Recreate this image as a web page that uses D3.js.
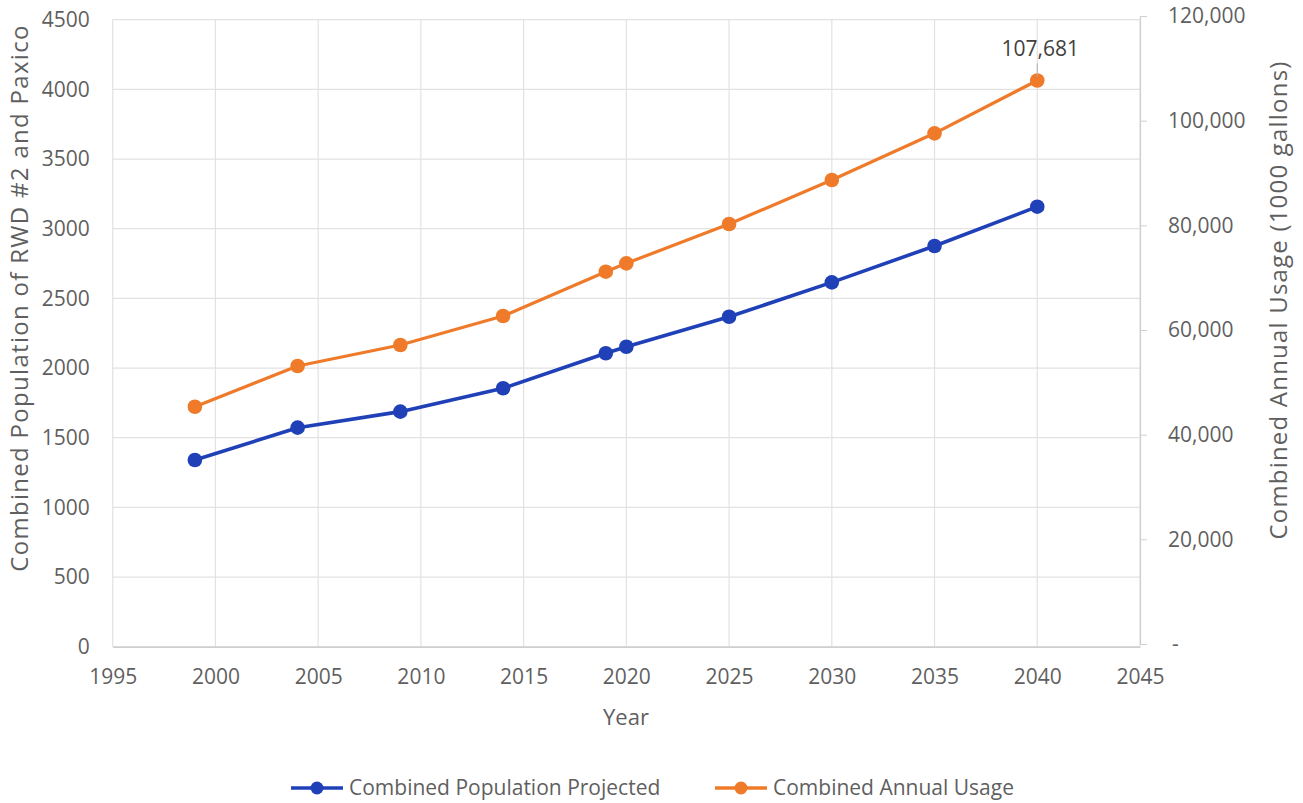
<!DOCTYPE html>
<html>
<head>
<meta charset="utf-8">
<script src="https://cdn.jsdelivr.net/npm/d3@7"></script>
<style>
  html, body { margin: 0; padding: 0; background: #ffffff; }
  svg { display: block; }
  text { font-family: "Open Sans", "Noto Sans", sans-serif; }
</style>
</head>
<body>
<svg id="chart" width="1303" height="803"></svg>
<script>
// ---- data ----
const years = [1999, 2004, 2009, 2014, 2019, 2020, 2025, 2030, 2035, 2040];
const population = [1340, 1572, 1687, 1855, 2106, 2153, 2368, 2615, 2876, 3158];
const usage = [45340, 53120, 57130, 62670, 71140, 72740, 80250, 88660, 97580, 107681];
const xTicks = [1995, 2000, 2005, 2010, 2015, 2020, 2025, 2030, 2035, 2040, 2045];
const leftTicks = [0, 500, 1000, 1500, 2000, 2500, 3000, 3500, 4000, 4500];
const rightTicks = [0, 20000, 40000, 60000, 80000, 100000, 120000];
const seriesNames = ["Combined Population Projected", "Combined Annual Usage"];
const xTitle = "Year";
const leftTitle = "Combined Population of RWD #2 and Paxico";
const rightTitle = "Combined Annual Usage (1000 gallons)";
const labelText = "107,681";

// ---- styles ----
const blue = "#2040b8";
const orange = "#ef7b2a";
const gridColor = "#e2e2e2";
const textColor = "#5f5f5f";
const tickFont = "21px";

const svg = d3.select("#chart");

const x = d3.scaleLinear().domain([1995, 2045]).range([112.7, 1140]);
const yL = d3.scaleLinear().domain([0, 4500]).range([646.7, 19.7]);
const yR = d3.scaleLinear().domain([0, 120000]).range([644, 16]);

// gridlines
const grid = svg.append("g");
grid.selectAll("line.h").data(leftTicks).join("line")
  .attr("x1", x(1995)).attr("x2", x(2045))
  .attr("y1", d => yL(d)).attr("y2", d => yL(d))
  .attr("stroke", gridColor).attr("stroke-width", 1.2);
grid.selectAll("line.v").data(xTicks).join("line")
  .attr("x1", d => x(d)).attr("x2", d => x(d))
  .attr("y1", yL(4500)).attr("y2", yL(0))
  .attr("stroke", gridColor).attr("stroke-width", 1.2);

// bottom axis
const xAxis = d3.axisBottom(x).tickValues(xTicks).tickFormat(d3.format("d")).tickSize(0).tickPadding(22);
const gx = svg.append("g").attr("transform", `translate(0,${yL(0)})`).call(xAxis);
gx.select(".domain").attr("stroke", "#cfcfcf").attr("stroke-width", 1.5);
gx.selectAll("text").attr("fill", textColor).style("font-size", tickFont);

// left axis
const yAxisL = d3.axisLeft(yL).tickValues(leftTicks).tickFormat(d3.format("d")).tickSize(0).tickPadding(23);
const gl = svg.append("g").attr("transform", `translate(${x(1995)},0)`).call(yAxisL);
gl.select(".domain").remove();
gl.selectAll("text").attr("fill", textColor).style("font-size", tickFont);

// right axis
const fmtR = v => v === 0 ? "-" : d3.format(",")(v);
const yAxisR = d3.axisRight(yR).tickValues(rightTicks).tickFormat(fmtR).tickSize(7).tickSizeOuter(0).tickPadding(21);
const gr = svg.append("g").attr("transform", `translate(${x(2045)},0)`).call(yAxisR);
gr.select(".domain").attr("stroke", "#cfcfcf").attr("stroke-width", 1.2);
gr.selectAll(".tick line").attr("stroke", "#cfcfcf");
gr.selectAll("text").attr("fill", textColor).style("font-size", tickFont);
gr.selectAll(".tick").filter(d => d === 0).select("text").attr("dx", 4);

// axis titles
svg.append("text").attr("x", 626).attr("y", 725).attr("text-anchor", "middle")
  .attr("fill", textColor).style("font-size", "22px").text(xTitle);
svg.append("text").attr("transform", `translate(28,298) rotate(-90)`)
  .attr("text-anchor", "middle").attr("fill", textColor).style("font-size", "24px")
  .style("letter-spacing", "1.3px").text(leftTitle);
svg.append("text").attr("transform", `translate(1287,300) rotate(-90)`)
  .attr("text-anchor", "middle").attr("fill", textColor).style("font-size", "24px")
  .style("letter-spacing", "1.2px").text(rightTitle);

// lines
const linePop = d3.line().x((d, i) => x(years[i])).y(d => yL(d));
const lineUse = d3.line().x((d, i) => x(years[i])).y(d => yR(d));

svg.append("path").datum(population).attr("d", linePop)
  .attr("fill", "none").attr("stroke", blue).attr("stroke-width", 3.6).attr("stroke-linejoin", "round");
svg.append("path").datum(usage).attr("d", lineUse)
  .attr("fill", "none").attr("stroke", orange).attr("stroke-width", 3.2).attr("stroke-linejoin", "round");

svg.append("g").selectAll("circle").data(population).join("circle")
  .attr("cx", (d, i) => x(years[i])).attr("cy", d => yL(d)).attr("r", 7.3).attr("fill", blue);
svg.append("g").selectAll("circle").data(usage).join("circle")
  .attr("cx", (d, i) => x(years[i])).attr("cy", d => yR(d)).attr("r", 7.3).attr("fill", orange);

// data label for last usage point
const lastI = usage.length - 1;
const lx = x(years[lastI]), ly = yR(usage[lastI]);
svg.append("line").attr("x1", lx).attr("x2", lx).attr("y1", ly - 4).attr("y2", ly - 17)
  .attr("stroke", "#b0b0b0").attr("stroke-width", 1);
svg.append("text").attr("x", lx + 3).attr("y", ly - 24).attr("text-anchor", "middle")
  .attr("fill", "#404040").style("font-size", "21px").text(labelText);

// legend
const legend = svg.append("g");
const legendItems = [
  { name: seriesNames[0], color: blue, x0: 291 },
  { name: seriesNames[1], color: orange, x0: 715 }
];
const legY = 788;
legendItems.forEach(it => {
  legend.append("line").attr("x1", it.x0).attr("x2", it.x0 + 52).attr("y1", legY).attr("y2", legY)
    .attr("stroke", it.color).attr("stroke-width", 3.4);
  legend.append("circle").attr("cx", it.x0 + 26).attr("cy", legY).attr("r", 6.5).attr("fill", it.color);
  legend.append("text").attr("x", it.x0 + 58).attr("y", legY + 7).attr("fill", textColor)
    .style("font-size", "21px").text(it.name);
});
</script>
</body>
</html>
